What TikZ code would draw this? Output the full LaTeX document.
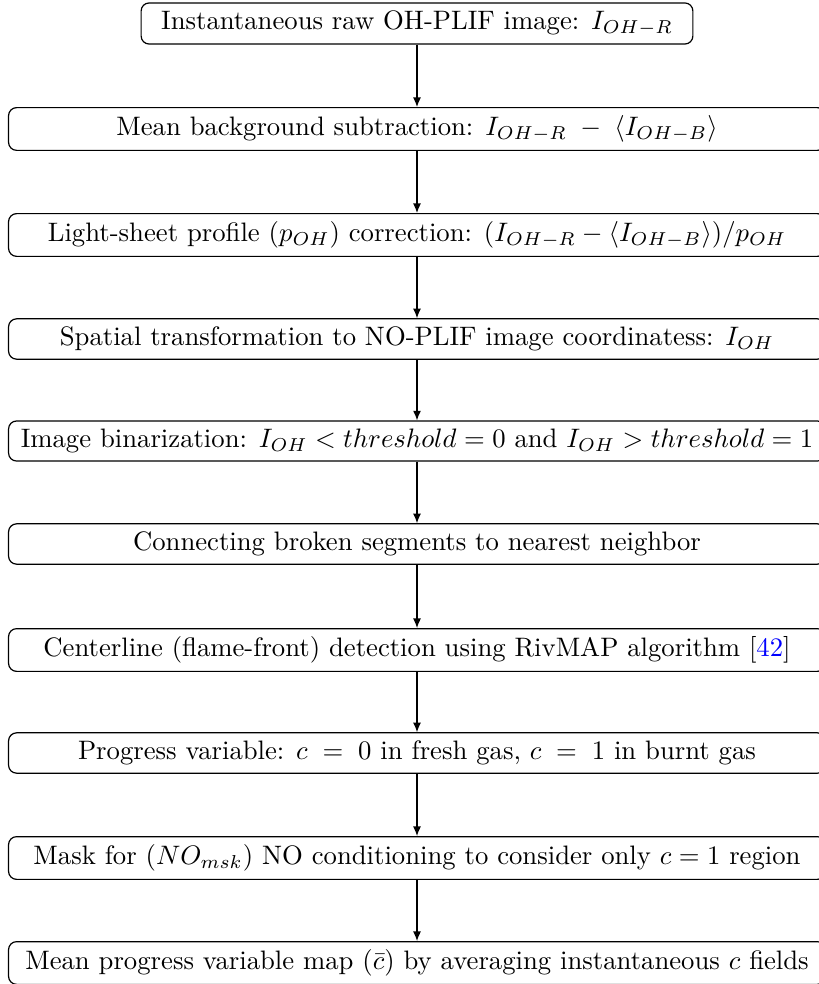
\documentclass[tikz,border=0pt]{standalone}
\usetikzlibrary{arrows.meta}
\begin{document}
\begin{tikzpicture}[x=0.3746pt,y=-0.3746pt,
  stepbox/.style={draw,line width=0.45pt,rounded corners=3pt,align=center,
    inner xsep=7.5pt,inner ysep=3pt},
  widebox/.style={stepbox,inner xsep=1pt,minimum width=306pt},
  flow/.style={draw,line width=0.45pt,-{Latex[length=3.6pt,width=3pt]}}]
\useasboundingbox (0,0) rectangle (818,984);
\node[stepbox] (s1) at (417,23.5) {Instantaneous raw OH-PLIF image: $I_{OH-R}$};
\node[widebox] (s2) at (417,129) {Mean background subtraction: $I_{OH-R}\;-\;\langle I_{OH-B}\rangle$};
\node[widebox] (s3) at (417,235) {Light-sheet profile ($p_{OH}$) correction: $(I_{OH-R}-\langle I_{OH-B}\rangle)/p_{OH}$};
\node[widebox] (s4) at (417,339) {Spatial transformation to NO-PLIF image coordinatess: $I_{OH}$};
\node[widebox] (s5) at (417,441) {Image binarization: $I_{OH}<threshold=0$ and $I_{OH}>threshold=1$};
\node[widebox] (s6) at (417,544) {Connecting broken segments to nearest neighbor};
\node[widebox] (s7) at (417,650) {Centerline (flame-front) detection using RivMAP algorithm [\textcolor{blue}{42}]};
\node[widebox] (s8) at (417,753) {Progress variable: $c\;=\;0$ in fresh gas, $c\;=\;1$ in burnt gas};
\node[widebox] (s9) at (417,858) {Mask for $(NO_{msk})$ NO conditioning to consider only $c=1$ region};
\node[widebox] (s10) at (417,963) {Mean progress variable map $(\bar{c})$ by averaging instantaneous $c$ fields};
\foreach \a/\b in {s1/s2,s2/s3,s3/s4,s4/s5,s5/s6,s6/s7,s7/s8,s8/s9,s9/s10}
  \draw[flow] (\a) -- (\b);
\end{tikzpicture}
\end{document}
